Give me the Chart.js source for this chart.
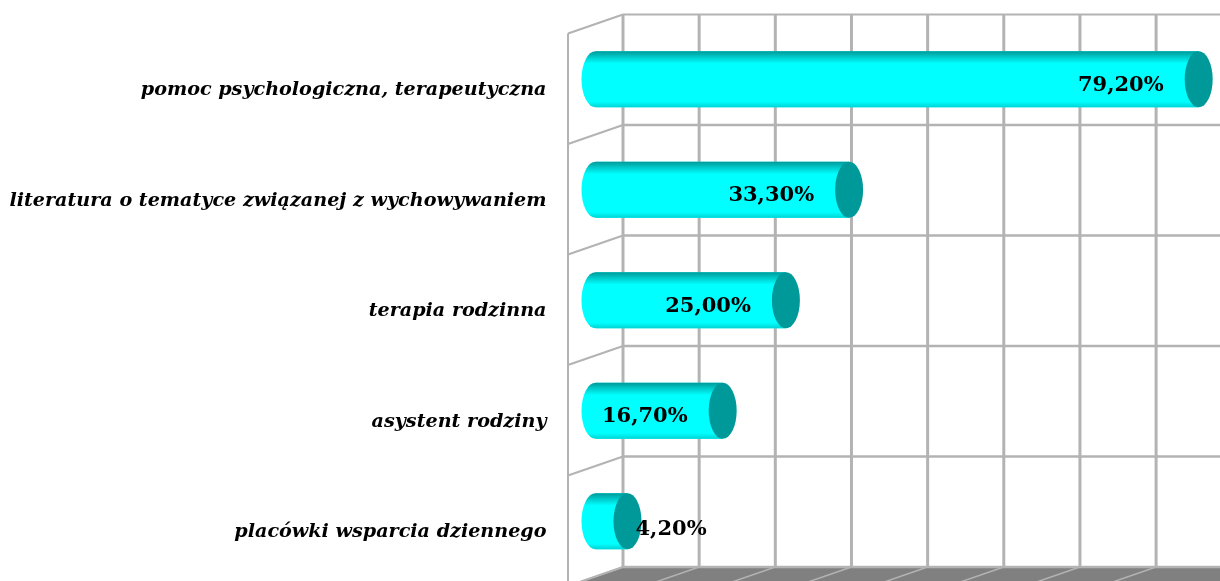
<!DOCTYPE html>
<html><head><meta charset="utf-8">
<style>html,body{margin:0;padding:0;background:#fff;overflow:hidden}#w{width:1220px;height:581px;position:relative}canvas{filter:blur(.4px)}</style>
<script src="https://cdn.jsdelivr.net/npm/chart.js@4"></script></head>
<body><div id="w"><canvas id="c" width="1220" height="581"></canvas></div>
<script>
const categories = ["pomoc psychologiczna, terapeutyczna","literatura o tematyce związanej z wychowywaniem","terapia rodzinna","asystent rodziny","placówki wsparcia dziennego"];
const values = [79.2,33.3,25.0,16.7,4.2];
const fmt = v => v.toFixed(2).replace('.',',') + '%';
const DX = 27.5, DY = 9.5;
const GRID = '#b3b3b3';
const cyl = {
  id:'cyl',
  beforeDatasetsDraw(ch){
    const {ctx,chartArea:a,scales:{x,y}} = ch;
    const top=a.top-DY, bot=a.bottom-DY, bx=x.getPixelForValue(0)+DX, lx=x.getPixelForValue(0)-DX;
    ctx.save();
    const fy=bot+(DY*2);
    ctx.fillStyle='#808080';
    ctx.beginPath();ctx.moveTo(bx,bot);ctx.lineTo(1220,bot);ctx.lineTo(1220,fy);ctx.lineTo(lx,fy);ctx.closePath();ctx.fill();
    x.ticks.filter(t=>t.value%10===0).forEach(t=>{
      const p=x.getPixelForValue(t.value)+DX;
      ctx.strokeStyle=GRID;ctx.lineWidth=3;
      ctx.beginPath();ctx.moveTo(p,top);ctx.lineTo(p,bot);ctx.stroke();
      ctx.lineWidth=1.5;
      ctx.beginPath();ctx.moveTo(p,bot);ctx.lineTo(p-2*DX,bot+2*DY);ctx.stroke();
    });
    const n=categories.length;
    for(let i=0;i<=n;i++){
      const yy=top+(bot-top)*i/n;
      ctx.strokeStyle=GRID;ctx.lineWidth=i===0?2:2.5;
      ctx.beginPath();ctx.moveTo(bx,yy);ctx.lineTo(1220,yy);ctx.stroke();
      ctx.lineWidth=2;
      ctx.beginPath();ctx.moveTo(bx,yy);ctx.lineTo(lx,yy+2*DY);ctx.stroke();
    }
    ctx.lineWidth=2;ctx.beginPath();ctx.moveTo(lx,top+2*DY);ctx.lineTo(lx,581);ctx.stroke();
    ctx.restore();
  },
  afterDatasetsDraw(ch){
    const {ctx} = ch;
    const meta=ch.getDatasetMeta(0);
    ctx.save();
    meta.data.forEach((el,i)=>{
      const h=el.height, t=el.y-h/2, b=el.y+h/2, x0=el.base, x1=el.x, rx=14, ry=h/2;
      const g=ctx.createLinearGradient(0,t,0,b);
      g.addColorStop(0,'#009999');g.addColorStop(.09,'#00c4c4');g.addColorStop(.22,'#00ffff');
      g.addColorStop(.9,'#00ffff');g.addColorStop(1,'#00d4d4');
      ctx.fillStyle=g;
      ctx.beginPath();
      ctx.moveTo(x1,t);ctx.lineTo(x0,t);
      ctx.ellipse(x0,el.y,rx,ry,0,-Math.PI/2,-3*Math.PI/2,true);
      ctx.lineTo(x1,b);ctx.closePath();ctx.fill();
      ctx.fillStyle='#009999';
      ctx.beginPath();ctx.ellipse(x1,el.y,rx,ry,0,0,2*Math.PI);ctx.fill();
      ctx.fillStyle='#000';
      ctx.font='bold 21px "DejaVu Serif"';
      ctx.textBaseline='middle';
      const s=fmt(values[i]), w=ctx.measureText(s).width;
      let tx=x1-35-w;
      if(tx<x0) { tx=x1+8; }
      ctx.textAlign='left';
      ctx.fillText(s,tx,el.y+(tx>x1?8:6));
    });
    ctx.restore();
  }
};
new Chart(document.getElementById('c'),{
  type:'bar',
  data:{labels:categories,datasets:[{data:values,backgroundColor:'#00ffff',borderWidth:0,barPercentage:0.507,categoryPercentage:1}]},
  plugins:[cyl],
  options:{
    indexAxis:'y',responsive:false,animation:false,
    layout:{padding:{top:24,bottom:4.5,left:0,right:0}},
    plugins:{legend:{display:false},tooltip:{enabled:false},title:{display:false}},
    scales:{
      x:{display:false,min:0,max:82,ticks:{stepSize:10}},
      y:{afterFit(s){s.width=595.5;s.paddingTop=0;s.paddingBottom=0},
        ticks:{padding:49,color:'#000',labelOffset:11,font:{family:'"DejaVu Serif"',size:19.15,style:'italic',weight:'bold'}},
        grid:{display:false,drawTicks:false},border:{display:false}}
    }
  }
});
</script></body></html>
